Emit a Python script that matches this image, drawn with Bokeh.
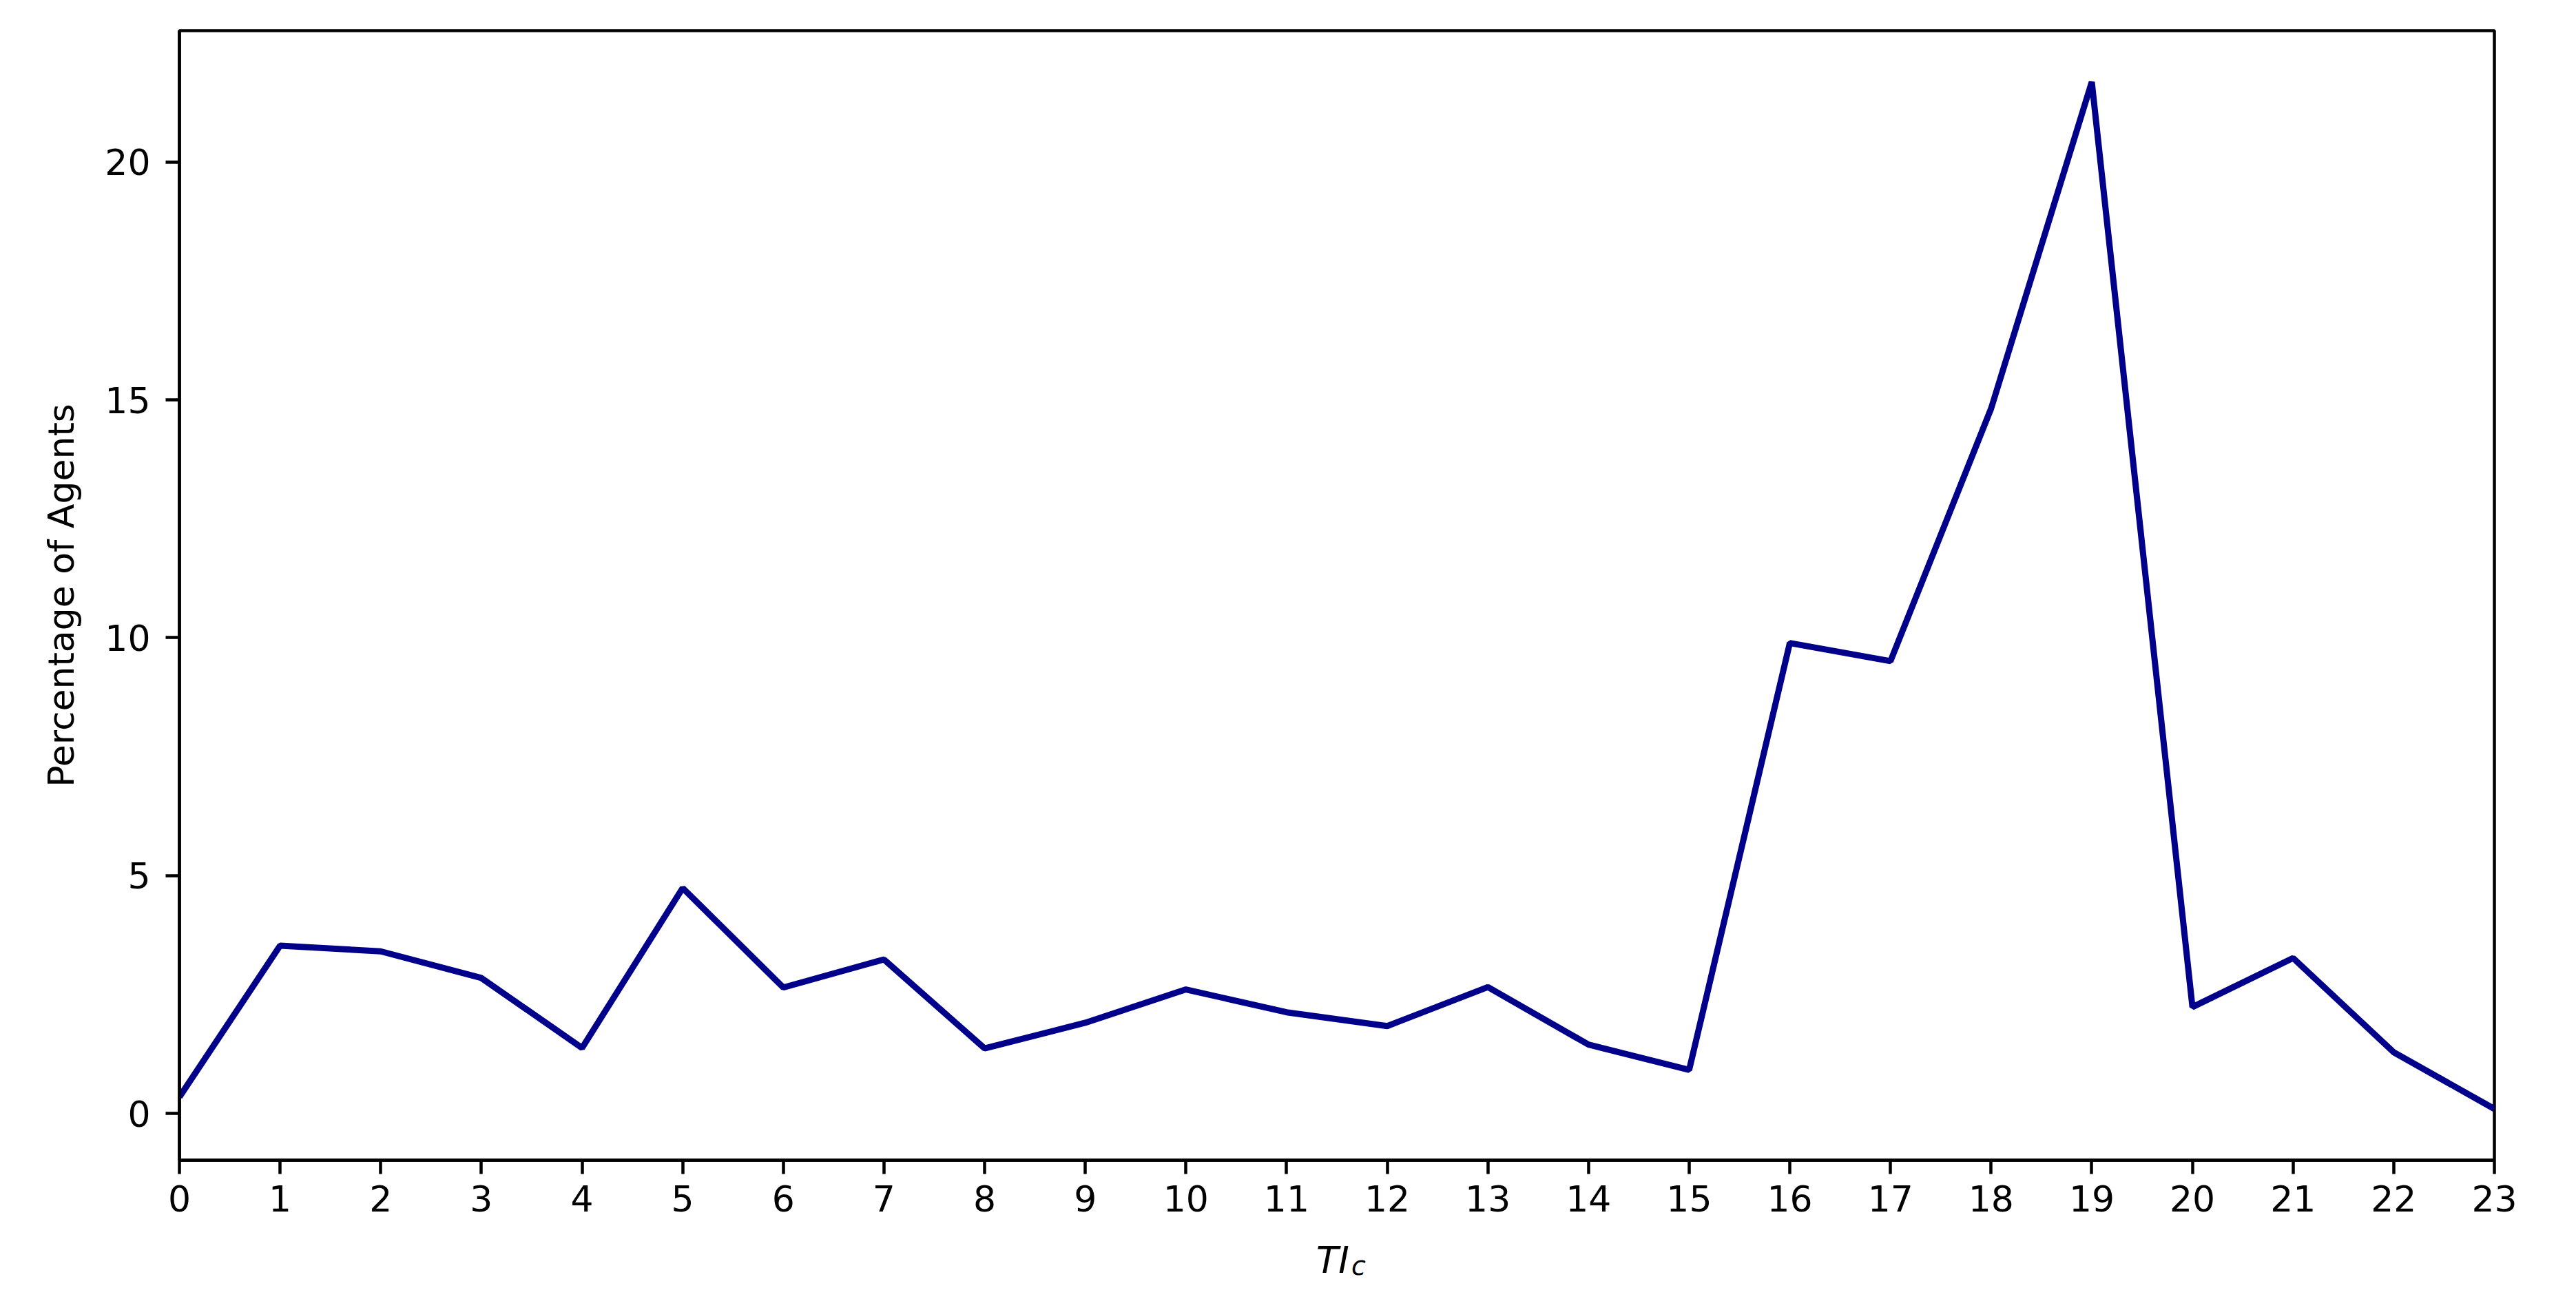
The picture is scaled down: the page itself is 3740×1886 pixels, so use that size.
from bokeh.plotting import figure
from bokeh.models import Range1d, FixedTicker
from bokeh.core.properties import value
from bokeh.layouts import column
from bokeh.embed import file_html
from bokeh.resources import INLINE

# ---- data ----
tic_c = list(range(24))
pct_agents = [0.35, 3.53, 3.41, 2.85, 1.38, 4.74, 2.65, 3.24, 1.37, 1.91, 2.61, 2.13,
              1.84, 2.66, 1.45, 0.92, 9.89, 9.51, 14.82, 21.68, 2.24, 3.27, 1.29, 0.10]
x_ticks = list(range(24))
y_ticks = [0, 5, 10, 15, 20]
x_label_main = "TI"
x_label_sub = "c"
y_label = "Percentage of Agents"

FONT = "DejaVu Sans"
FS = "52px"

W = 3724
H_MAIN = 1784
H_XLAB = 86
BL, BR = 260, 103

lo, hi = min(pct_agents), max(pct_agents)
pad = 0.05 * (hi - lo)
xr = Range1d(0, 23)

p = figure(width=W, height=H_MAIN, output_backend="svg", toolbar_location=None,
           x_range=xr, y_range=Range1d(lo - pad, hi + pad),
           min_border_left=BL, min_border_right=BR, min_border_top=44,
           min_border_bottom=H_MAIN - 1684)

p.background_fill_color = "white"
p.border_fill_color = "white"
p.outline_line_color = "black"
p.outline_line_width = 4.5
p.outline_line_alpha = 1.0
p.grid.visible = False

p.line(tic_c, pct_agents, line_color="#00008B", line_width=9)

for ax in (p.xaxis[0], p.yaxis[0]):
    ax.axis_line_color = "black"
    ax.axis_line_width = 4.5
    ax.major_tick_line_color = "black"
    ax.major_tick_line_width = 4.5
    ax.major_tick_in = 0
    ax.major_tick_out = 20
    ax.minor_tick_line_color = None
    ax.major_label_text_font = FONT
    ax.major_label_text_font_size = FS
    ax.major_label_text_color = "black"

p.xaxis[0].ticker = FixedTicker(ticks=x_ticks)
p.yaxis[0].ticker = FixedTicker(ticks=y_ticks)
p.xaxis[0].major_label_standoff = 16
p.yaxis[0].major_label_standoff = 22

p.yaxis[0].axis_label = y_label
p.yaxis[0].axis_label_text_font = FONT
p.yaxis[0].axis_label_text_font_size = FS
p.yaxis[0].axis_label_text_font_style = "normal"
p.yaxis[0].axis_label_text_color = "black"
p.yaxis[0].axis_label_standoff = 30

# x-axis title "TI" with subscript "c", drawn in a strip below the plot
q = figure(width=W, height=H_XLAB, output_backend="svg", toolbar_location=None,
           x_range=xr, y_range=Range1d(0, H_XLAB),
           x_axis_location=None, y_axis_location=None,
           min_border_left=BL, min_border_right=BR, min_border_top=0, min_border_bottom=0)
q.title = None
q.outline_line_color = None
q.grid.visible = False
q.background_fill_color = "white"
q.border_fill_color = "white"

xmid = (xr.start + xr.end) / 2
q.text(x=[xmid], y=[41], text=[x_label_main], x_offset=-30,
       text_font=value(FONT), text_font_size="53px", text_font_style="italic",
       text_color="black", text_align="left", text_baseline="alphabetic")
q.text(x=[xmid], y=[33], text=[x_label_sub], x_offset=21,
       text_font=value(FONT), text_font_size="38px", text_font_style="italic",
       text_color="black", text_align="left", text_baseline="alphabetic")

layout = column(p, q, spacing=0)
open("out.html", "w").write(file_html(layout, INLINE))
